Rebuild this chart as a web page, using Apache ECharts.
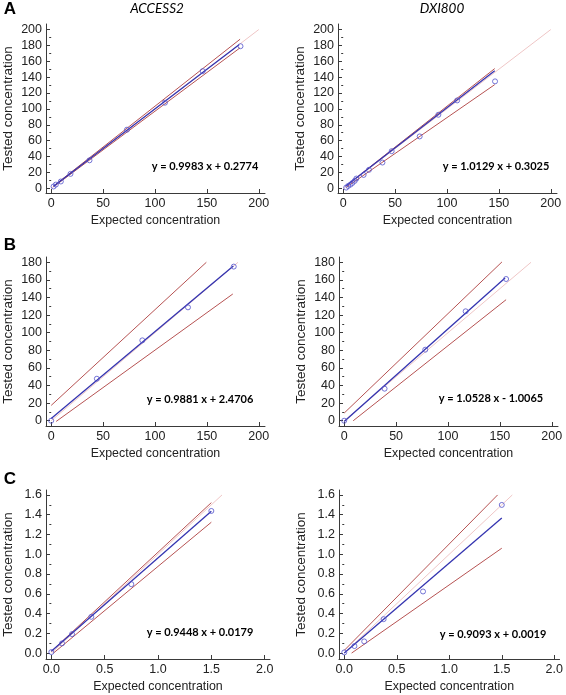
<!DOCTYPE html>
<html>
<head>
<meta charset="utf-8">
<script src="https://cdn.jsdelivr.net/npm/echarts@6/dist/echarts.min.js"></script>
<style>
html,body{margin:0;padding:0;background:#fff;}
#chart{width:566px;height:695px;}
</style>
</head>
<body>
<div id="chart"></div>
<script>
// ---------- Data ----------
// Panel A – ACCESS2
const accessA_expected = [2.3, 4.5, 9.3, 18.6, 36.9, 73.0, 109.6, 146.0, 182.4];
const accessA_tested   = [2.2, 4.6, 8.5, 18.1, 35.2, 73.8, 107.8, 147.6, 179.0];
const accessA_fit      = {slope: 0.9983, intercept: 0.2774, xFrom: 2.3, xTo: 181};
const accessA_upper    = [[2.3, 2.8], [182, 187.8]];
const accessA_lower    = [[2.3, 1.8], [182, 177]];
const accessA_identity = [[0, 0], [200, 200]];

// Panel A – DXI800
const dxiA_expected = [2.9, 4.8, 7.0, 8.9, 11.1, 12.7, 19.7, 24.8, 37.8, 46.7, 73.7, 91.7, 109.8, 146.3];
const dxiA_tested   = [0.8, 2.9, 4.6, 6.7, 9.3, 12.2, 16.8, 23.2, 32.4, 46.7, 65.3, 92.6, 110.7, 134.7];
const dxiA_fit      = {slope: 1.0129, intercept: 0.3025, xFrom: 2.9, xTo: 146};
const dxiA_upper    = [[2.9, 3.2], [146, 150.8]];
const dxiA_lower    = [[2.9, 1.2], [146, 130.6]];
const dxiA_identity = [[0, 0], [200, 200]];

// Panel B – ACCESS2
const accessB_expected = [0, 44.0, 87.8, 131.8, 175.9];
const accessB_tested   = [0, 47.7, 91.3, 128.8, 175.1];
const accessB_fit      = {slope: 0.9881, intercept: 2.4706, xFrom: 0, xTo: 175.5};
const accessB_upper    = [[0, 17.4], [149.5, 180]];
const accessB_lower    = [[4.8, -0.8], [175, 144]];
const accessB_identity = [[0, 0], [180, 180]];

// Panel B – DXI800
const dxiB_expected = [0, 38.9, 78.1, 117.0, 156.0];
const dxiB_tested   = [0, 36.4, 80.7, 124.3, 161.0];
const dxiB_fit      = {slope: 1.0528, intercept: -1.0065, xFrom: 0, xTo: 155};
const dxiB_upper    = [[0, 8.7], [152, 180.4]];
const dxiB_lower    = [[8.7, 0], [156, 137.5]];
const dxiB_identity = [[0, 0], [180, 180]];

// Panel C – ACCESS2
const accessC_expected = [0, 0.10, 0.194, 0.375, 0.75, 1.5];
const accessC_tested   = [0.01, 0.098, 0.192, 0.367, 0.697, 1.438];
const accessC_fit      = {slope: 0.9448, intercept: 0.0179, xFrom: 0, xTo: 1.5};
const accessC_upper    = [[0, 0.017], [1.5, 1.522]];
const accessC_lower    = [[0.02, 0], [1.5, 1.324]];
const accessC_identity = [[0, 0], [1.6, 1.6]];

// Panel C – DXI800
const dxiC_expected = [0, 0.097, 0.19, 0.375, 0.75, 1.5];
const dxiC_tested   = [0.007, 0.071, 0.118, 0.343, 0.623, 1.499];
const dxiC_fit      = {slope: 0.9093, intercept: 0.0019, xFrom: 0, xTo: 1.5};
const dxiC_upper    = [[0, 0.027], [1.46, 1.6]];
const dxiC_lower    = [[0.07, 0], [1.5, 1.061]];
const dxiC_identity = [[0, 0], [1.6, 1.6]];

// Tick values
const ticksX_AB = [0, 50, 100, 150, 200];
const ticksY_A  = [0, 20, 40, 60, 80, 100, 120, 140, 160, 180, 200];
const minorY_A  = [10, 30, 50, 70, 90, 110, 130, 150, 170, 190];
const ticksY_B  = [0, 20, 40, 60, 80, 100, 120, 140, 160, 180];
const minorY_B  = [10, 30, 50, 70, 90, 110, 130, 150, 170];
const ticksX_C  = [0, 0.5, 1.0, 1.5, 2.0];
const ticksY_C  = [0, 0.2, 0.4, 0.6, 0.8, 1.0, 1.2, 1.4, 1.6];
const minorY_C  = [0.1, 0.3, 0.5, 0.7, 0.9, 1.1, 1.3, 1.5];

const titles = ['ACCESS2', 'DXI800'];
const panelLetters = ['A', 'B', 'C'];
const xName = 'Expected concentration';
const yName = 'Tested concentration';

// ---------- Layout ----------
const panels = [
  {grid:{left:46, top:24, width:219, height:169}, x:[-5,206], y:[-6,207], tx:ticksX_AB, ty:ticksY_A, my:minorY_A, dec:0,
   exp:accessA_expected, tst:accessA_tested, fit:accessA_fit, up:accessA_upper, lo:accessA_lower, id:accessA_identity, eq:[205,166]},
  {grid:{left:338, top:24, width:219, height:169}, x:[-5,206], y:[-6,207], tx:ticksX_AB, ty:ticksY_A, my:minorY_A, dec:0,
   exp:dxiA_expected, tst:dxiA_tested, fit:dxiA_fit, up:dxiA_upper, lo:dxiA_lower, id:dxiA_identity, eq:[496,166]},
  {grid:{left:46, top:257, width:219, height:169}, x:[-5,206], y:[-6,186], tx:ticksX_AB, ty:ticksY_B, my:minorY_B, dec:0,
   exp:accessB_expected, tst:accessB_tested, fit:accessB_fit, up:accessB_upper, lo:accessB_lower, id:accessB_identity, eq:[200,399]},
  {grid:{left:339, top:257, width:219, height:169}, x:[-5,206], y:[-6,186], tx:ticksX_AB, ty:ticksY_B, my:minorY_B, dec:0,
   exp:dxiB_expected, tst:dxiB_tested, fit:dxiB_fit, up:dxiB_upper, lo:dxiB_lower, id:dxiB_identity, eq:[491,398]},
  {grid:{left:46, top:490, width:224, height:169}, x:[-0.05,2.05], y:[-0.06,1.65], tx:ticksX_C, ty:ticksY_C, my:minorY_C, dec:1,
   exp:accessC_expected, tst:accessC_tested, fit:accessC_fit, up:accessC_upper, lo:accessC_lower, id:accessC_identity, eq:[200,632]},
  {grid:{left:339, top:490, width:224, height:169}, x:[-0.05,2.05], y:[-0.06,1.65], tx:ticksX_C, ty:ticksY_C, my:minorY_C, dec:1,
   exp:dxiC_expected, tst:dxiC_tested, fit:dxiC_fit, up:dxiC_upper, lo:dxiC_lower, id:dxiC_identity, eq:[493,634]}
];

const AXIS_COLOR = '#3a3a3a';
const LABEL_FONT = 'Liberation Sans';

const grid = [], xAxis = [], yAxis = [], series = [], graphic = [];

panels.forEach((p, i) => {
  grid.push(p.grid);
  const fmt = v => Number(v).toFixed(p.dec);
  xAxis.push({
    type:'value', gridIndex:i, min:p.x[0], max:p.x[1],
    name:xName, nameLocation:'middle', nameGap:22,
    nameTextStyle:{fontFamily:LABEL_FONT, fontSize:12.4, color:'#222'},
    axisLine:{show:true, onZero:false, lineStyle:{color:AXIS_COLOR, width:1}},
    axisTick:{show:true, inside:true, length:4, customValues:p.tx, lineStyle:{color:AXIS_COLOR}},
    axisLabel:{show:true, margin:4, customValues:p.tx, formatter:fmt, fontFamily:LABEL_FONT, fontSize:12.5, color:'#222'},
    splitLine:{show:false}
  });
  yAxis.push({
    type:'value', gridIndex:i, min:p.y[0], max:p.y[1],
    name:yName, nameLocation:'middle', nameGap:31,
    nameTextStyle:{fontFamily:LABEL_FONT, fontSize:13.5, color:'#222'},
    axisLine:{show:true, onZero:false, lineStyle:{color:AXIS_COLOR, width:1}},
    axisTick:{show:true, inside:true, length:4, customValues:p.ty, lineStyle:{color:AXIS_COLOR}},
    axisLabel:{show:true, margin:4, customValues:p.ty, formatter:fmt, fontFamily:LABEL_FONT, fontSize:12.5, color:'#222'},
    splitLine:{show:false}
  });
  yAxis.push({
    type:'value', gridIndex:i, min:p.y[0], max:p.y[1],
    axisLine:{show:false},
    axisTick:{show:true, inside:true, length:2, customValues:p.my, lineStyle:{color:AXIS_COLOR}},
    axisLabel:{show:false},
    splitLine:{show:false}
  });
  const yi = 2*i;
  const lineCommon = {type:'line', xAxisIndex:i, yAxisIndex:yi, showSymbol:false, symbol:'none', silent:true, animation:false, clip:false};
  series.push(Object.assign({}, lineCommon, {data:p.id, lineStyle:{color:'#efc6c6', width:1}, z:1}));
  series.push(Object.assign({}, lineCommon, {data:p.up, lineStyle:{color:'#b65252', width:1}, z:2}));
  series.push(Object.assign({}, lineCommon, {data:p.lo, lineStyle:{color:'#b65252', width:1}, z:2}));
  const f = p.fit;
  series.push(Object.assign({}, lineCommon, {
    data:[[f.xFrom, f.slope*f.xFrom + f.intercept], [f.xTo, f.slope*f.xTo + f.intercept]],
    lineStyle:{color:'#3434b0', width:1.3}, z:3}));
  series.push({
    type:'scatter', xAxisIndex:i, yAxisIndex:yi, symbol:'circle', symbolSize:5,
    itemStyle:{color:'rgba(0,0,0,0)', borderColor:'#5252cc', borderWidth:1}, silent:true, animation:false, clip:false, z:4,
    data:p.exp.map((x, k) => [x, p.tst[k]])
  });
  const eqText = 'y = ' + f.slope.toFixed(4) + ' x ' + (f.intercept < 0 ? '- ' : '+ ') + Math.abs(f.intercept).toFixed(4);
  graphic.push({type:'text', x:p.eq[0], y:p.eq[1], silent:true,
    style:{text:eqText, align:'center', verticalAlign:'middle', font:'bold 11px Lato', fill:'#000'}});
});

// Column titles and panel letters
graphic.push({type:'text', x:157, y:9, style:{text:titles[0], align:'center', verticalAlign:'middle', font:'italic 13.5px Lato', fill:'#000'}});
graphic.push({type:'text', x:442, y:9, style:{text:titles[1], align:'center', verticalAlign:'middle', font:'italic 13.5px Lato', fill:'#000'}});
[[10, 9], [10, 245], [10, 479]].forEach((pos, k) => {
  graphic.push({type:'text', x:pos[0], y:pos[1], style:{text:panelLetters[k], align:'center', verticalAlign:'middle', font:'bold 17px "Liberation Sans"', fill:'#000'}});
});

const chart = echarts.init(document.getElementById('chart'), null, {renderer:'canvas'});
chart.setOption({animation:false, grid, xAxis, yAxis, series, graphic});
</script>
</body>
</html>
